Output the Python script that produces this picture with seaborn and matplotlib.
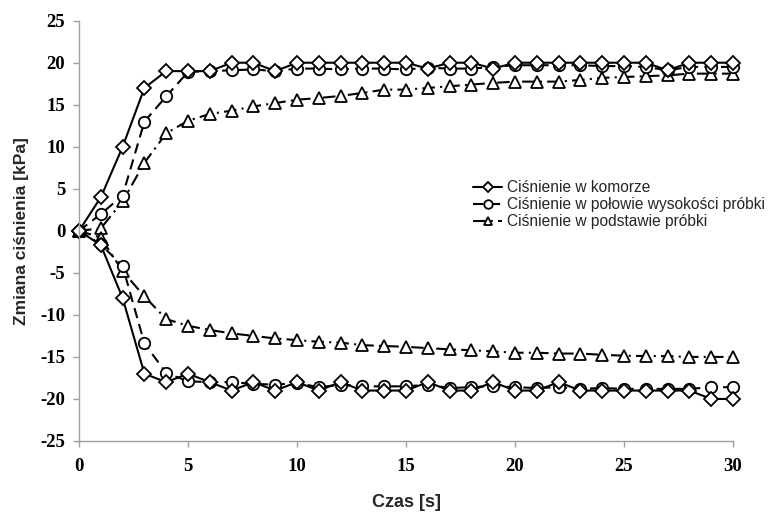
import numpy as np
import pandas as pd
import matplotlib
matplotlib.use("Agg")
import matplotlib.pyplot as plt
import seaborn as sns

# ---- data ----
time_s = list(range(0, 31))

komora_up = [0, 4, 10, 17, 19, 19, 19, 20, 20, 19, 20, 20, 20, 20, 20, 20,
             19.3, 20, 20, 19.3, 20, 20, 20, 20, 20, 20, 20, 19.1, 20, 20, 20]
komora_down = [0, -1.7, -8, -17, -18, -17, -18, -19, -18, -19, -18, -19, -18, -19, -19, -19,
               -18, -19, -19, -18, -19, -19, -18, -19, -19, -19, -19, -19, -19, -20, -20]

polowa_up = [0, 2, 4.2, 13, 16, 18.9, 19, 19.1, 19.2, 19, 19.3, 19.3, 19.2, 19.3, 19.3, 19.2,
             19.4, 19.3, 19.3, 19.5, 19.7, 19.7, 19.7, 19.7, 19.6, 19.6, 19.5, 19.1, 19.5, 19.5, 19.5]
polowa_down = [0, -1.6, -4.2, -13.4, -16.9, -17.9, -18, -18, -18.2, -18.3, -18.1, -18.6, -18.3, -18.5, -18.5, -18.5,
               -18.3, -18.7, -18.6, -18.45, -18.6, -18.7, -18.6, -18.8, -18.7, -18.8, -18.8, -18.8, -18.8, -18.6, -18.6]

podstawa_up = [0, 0.3, 3.5, 8.1, 11.6, 13.1, 13.9, 14.3, 14.8, 15.2, 15.6, 15.8, 16.05, 16.4, 16.8, 16.8,
               17.0, 17.2, 17.4, 17.6, 17.75, 17.75, 17.75, 17.95, 18.2, 18.3, 18.4, 18.5, 18.7, 18.7, 18.7]
podstawa_down = [0, -0.8, -4.8, -7.8, -10.5, -11.3, -11.8, -12.2, -12.5, -12.8, -13.0, -13.2, -13.3, -13.6, -13.7, -13.8,
                 -13.95, -14.1, -14.2, -14.35, -14.5, -14.5, -14.6, -14.6, -14.75, -14.85, -14.9, -14.9, -15.0, -15.0, -15.0]

series_names = ["Ciśnienie w komorze",
                "Ciśnienie w połowie wysokości próbki",
                "Ciśnienie w podstawie próbki"]

x_ticks = [0, 5, 10, 15, 20, 25, 30]
y_ticks = [-25, -20, -15, -10, -5, 0, 5, 10, 15, 20, 25]

# ---- build long table ----
rows = []
for name, up, down in [(series_names[0], komora_up, komora_down),
                       (series_names[1], polowa_up, polowa_down),
                       (series_names[2], podstawa_up, podstawa_down)]:
    for branch, vals in (("up", up), ("down", down)):
        for t, v in zip(time_s, vals):
            rows.append({"t": t, "v": v, "series": name, "branch": branch})
df = pd.DataFrame(rows)

sns.set_theme(style="white")
plt.rcParams["font.family"] = ["Liberation Sans", "DejaVu Sans"]

fig = plt.figure(figsize=(7.84, 5.12), dpi=100)
ax = fig.add_axes([0.1008, 0.1387, 0.8342, 0.8209])

styles = {
    series_names[0]: dict(marker="D", ls="-", ms=7.2),
    series_names[1]: dict(marker="o", ls=(0, (5, 3)), ms=8.2),
    series_names[2]: dict(marker="^", ls=(0, (6, 2.5, 1, 2.5)), ms=8.2),
}

# draw later series first so the diamond line sits on top like the reference
for name in series_names[::-1]:
    st = styles[name]
    for branch in ("up", "down"):
        sub = df[(df.series == name) & (df.branch == branch)]
        sns.lineplot(data=sub, x="t", y="v", ax=ax, color="black", lw=1.5,
                     marker=st["marker"], markersize=st["ms"],
                     markerfacecolor="white", markeredgecolor="black",
                     markeredgewidth=1.3, linestyle=st["ls"],
                     label=name if branch == "up" else None,
                     estimator=None, sort=False, legend=False, clip_on=False)

ax.set_xlim(0, 30)
ax.set_ylim(-25, 25)
ax.set_xticks(x_ticks)
ax.set_yticks(y_ticks)
ax.set_xticklabels([str(v) for v in x_ticks])
ax.set_yticklabels([str(v) for v in y_ticks])

for lab in ax.get_xticklabels() + ax.get_yticklabels():
    lab.set_fontfamily("Liberation Serif")
    lab.set_fontweight("bold")
    lab.set_fontsize(13.5)
    lab.set_color("black")

ax.tick_params(axis="both", which="major", length=4, width=1, color="#a0a0a0",
               direction="out", bottom=True, left=True)
ax.tick_params(axis="x", pad=8)
ax.tick_params(axis="y", pad=6)

for side in ("top", "right"):
    ax.spines[side].set_visible(False)
for side in ("left", "bottom"):
    ax.spines[side].set_color("#a0a0a0")
    ax.spines[side].set_linewidth(1.0)

ax.set_xlabel("Czas [s]", fontsize=13, fontweight="bold", labelpad=14)
ax.set_ylabel("Zmiana ciśnienia [kPa]", fontsize=12.5, fontweight="bold", labelpad=8)
ax.grid(False)

handles, labels = ax.get_legend_handles_labels()
order = [labels.index(n) for n in series_names]
leg = fig.legend([handles[i] for i in order], [labels[i] for i in order],
                 loc="upper left", bbox_to_anchor=(0.603, 0.648),
                 frameon=False, fontsize=11.2, handlelength=1.9,
                 handletextpad=0.3, labelspacing=0.12, markerscale=0.75,
                 borderaxespad=0, borderpad=0)

fig.savefig("out.png", dpi=100, facecolor="white")
